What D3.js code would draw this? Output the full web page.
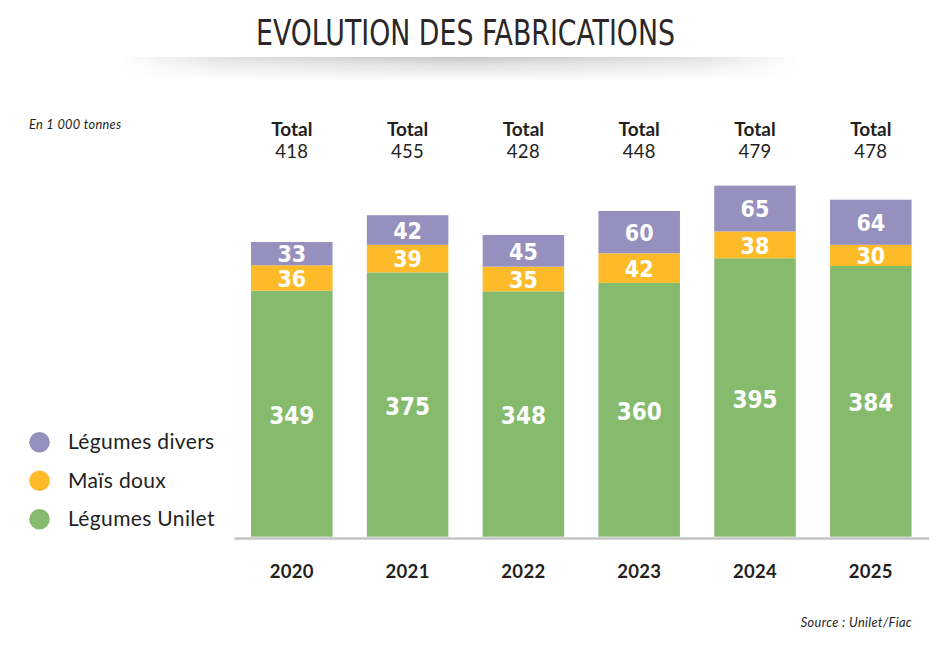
<!DOCTYPE html>
<html>
<head>
<meta charset="utf-8">
<script src="https://cdn.jsdelivr.net/npm/d3@7"></script>
<style>
  html, body { margin: 0; padding: 0; background: #fff; }
  svg { display: block; }
</style>
</head>
<body>
<svg id="chart" width="945" height="645"></svg>
<script>
// ---- data ----
const years = ["2020", "2021", "2022", "2023", "2024", "2025"];
const legumesUnilet = [349, 375, 348, 360, 395, 384];
const maisDoux = [36, 39, 35, 42, 38, 30];
const legumesDivers = [33, 42, 45, 60, 65, 64];
const totals = [418, 455, 428, 448, 479, 478];
const seriesNames = ["Légumes Unilet", "Maïs doux", "Légumes divers"];
const seriesColors = ["#86bb6e", "#fdbb29", "#9590be"];

const svg = d3.select("#chart");
const defs = svg.append("defs");

// ---- title shadow ----
const vg = defs.append("linearGradient").attr("id", "vg").attr("x1", 0).attr("y1", 0).attr("x2", 0).attr("y2", 1);
vg.append("stop").attr("offset", 0).attr("stop-color", "#000").attr("stop-opacity", 0.22);
vg.append("stop").attr("offset", 0.35).attr("stop-color", "#000").attr("stop-opacity", 0.12);
vg.append("stop").attr("offset", 1).attr("stop-color", "#000").attr("stop-opacity", 0);
const hg = defs.append("linearGradient").attr("id", "hg").attr("x1", 0).attr("y1", 0).attr("x2", 1).attr("y2", 0);
hg.append("stop").attr("offset", 0).attr("stop-color", "#fff").attr("stop-opacity", 0);
hg.append("stop").attr("offset", 0.15).attr("stop-color", "#fff").attr("stop-opacity", 0.55);
hg.append("stop").attr("offset", 0.5).attr("stop-color", "#fff").attr("stop-opacity", 1);
hg.append("stop").attr("offset", 0.85).attr("stop-color", "#fff").attr("stop-opacity", 0.55);
hg.append("stop").attr("offset", 1).attr("stop-color", "#fff").attr("stop-opacity", 0);
const mask = defs.append("mask").attr("id", "hm");
mask.append("rect").attr("x", 120).attr("y", 50).attr("width", 680).attr("height", 40).attr("fill", "url(#hg)");
svg.append("rect").attr("x", 125).attr("y", 57).attr("width", 670).attr("height", 24)
  .attr("fill", "url(#vg)").attr("mask", "url(#hm)");

// ---- title ----
svg.append("text")
  .attr("x", 256).attr("y", 44.5)
  .attr("textLength", 419).attr("lengthAdjust", "spacingAndGlyphs")
  .style("font-family", "'Liberation Sans Narrow', 'DejaVu Sans Condensed', sans-serif")
  .style("font-size", "36px")
  .style("fill", "#2b2728")
  .text("EVOLUTION DES FABRICATIONS");

// ---- scales ----
const x = d3.scaleBand().domain(years).range([233.9, 928.7]).paddingInner(0.296).paddingOuter(0.148);
const y = d3.scaleLinear().domain([0, 500]).range([536.7, 184.2]);

// stacked data
const rows = years.map((yr, i) => ({ year: yr, s0: legumesUnilet[i], s1: maisDoux[i], s2: legumesDivers[i] }));
const stack = d3.stack().keys(["s0", "s1", "s2"])(rows);

const gBars = svg.append("g");
stack.forEach((layer, li) => {
  gBars.selectAll(null).data(layer).join("rect")
    .attr("x", d => x(d.data.year))
    .attr("width", x.bandwidth())
    .attr("y", d => y(d[1]))
    .attr("height", d => y(d[0]) - y(d[1]))
    .attr("fill", seriesColors[li]);
  gBars.selectAll(null).data(layer).join("text")
    .attr("x", d => x(d.data.year) + x.bandwidth() / 2)
    .attr("y", d => (y(d[0]) + y(d[1])) / 2 + (li === 0 ? 1.5 : 0.5))
    .attr("dy", "0.36em")
    .attr("text-anchor", "middle")
    .style("font-family", "'DejaVu Sans Condensed', 'DejaVu Sans', sans-serif")
    .style("font-weight", "bold")
    .style("font-size", li === 0 ? "24px" : "23px")
    .style("fill", "#fff")
    .text(d => d[1] - d[0]);
});

// ---- axis ----
const axis = d3.axisBottom(x).tickSizeInner(0).tickSizeOuter(0).tickPadding(27);
const gAxis = svg.append("g").attr("transform", "translate(0,538)").call(axis);
gAxis.select(".domain").attr("stroke", "#c4c4c4").attr("stroke-width", 2.6);
gAxis.selectAll(".tick text")
  .style("font-family", "Lato, 'Noto Sans', sans-serif")
  .style("font-weight", "bold")
  .style("font-size", "18.5px")
  .style("letter-spacing", "0.3px")
  .style("fill", "#231f20");

// ---- totals ----
const gTot = svg.append("g");
gTot.selectAll(null).data(years).join("text")
  .attr("x", d => x(d) + x.bandwidth() / 2)
  .attr("y", 136)
  .attr("text-anchor", "middle")
  .style("font-family", "Lato, 'Noto Sans', sans-serif")
  .style("font-weight", "bold")
  .style("font-size", "19px")
  .style("fill", "#231f20")
  .text("Total");
gTot.selectAll(null).data(totals).join("text")
  .attr("x", (d, i) => x(years[i]) + x.bandwidth() / 2)
  .attr("y", 158.3)
  .attr("text-anchor", "middle")
  .style("font-family", "Lato, 'Noto Sans', sans-serif")
  .style("font-size", "18.5px")
  .style("letter-spacing", "0.3px")
  .style("fill", "#231f20")
  .text(d => d);

// ---- legend ----
const legendOrder = [2, 1, 0];
const gLeg = svg.append("g");
legendOrder.forEach((si, k) => {
  const cy = 442.3 + k * 38.5;
  gLeg.append("circle").attr("cx", 39.5).attr("cy", cy).attr("r", 10.3).attr("fill", seriesColors[si]);
  gLeg.append("text").attr("x", 68).attr("y", cy + 7)
    .style("font-family", "Lato, 'Noto Sans', sans-serif")
    .style("font-size", "21px")
    .style("letter-spacing", "0.35px")
    .style("fill", "#231f20")
    .text(seriesNames[si]);
});

// ---- notes ----
svg.append("text").attr("x", 29).attr("y", 129)
  .style("font-family", "Lato, 'Noto Sans', sans-serif")
  .style("font-style", "italic")
  .style("font-size", "12.8px")
  .style("letter-spacing", "0.3px")
  .style("fill", "#231f20")
  .text("En 1 000 tonnes");
svg.append("text").attr("x", 912).attr("y", 626.5).attr("text-anchor", "end")
  .style("font-family", "Lato, 'Noto Sans', sans-serif")
  .style("font-style", "italic")
  .style("font-size", "12.8px")
  .style("letter-spacing", "0.35px")
  .style("fill", "#231f20")
  .text("Source : Unilet/Fiac");
</script>
</body>
</html>
